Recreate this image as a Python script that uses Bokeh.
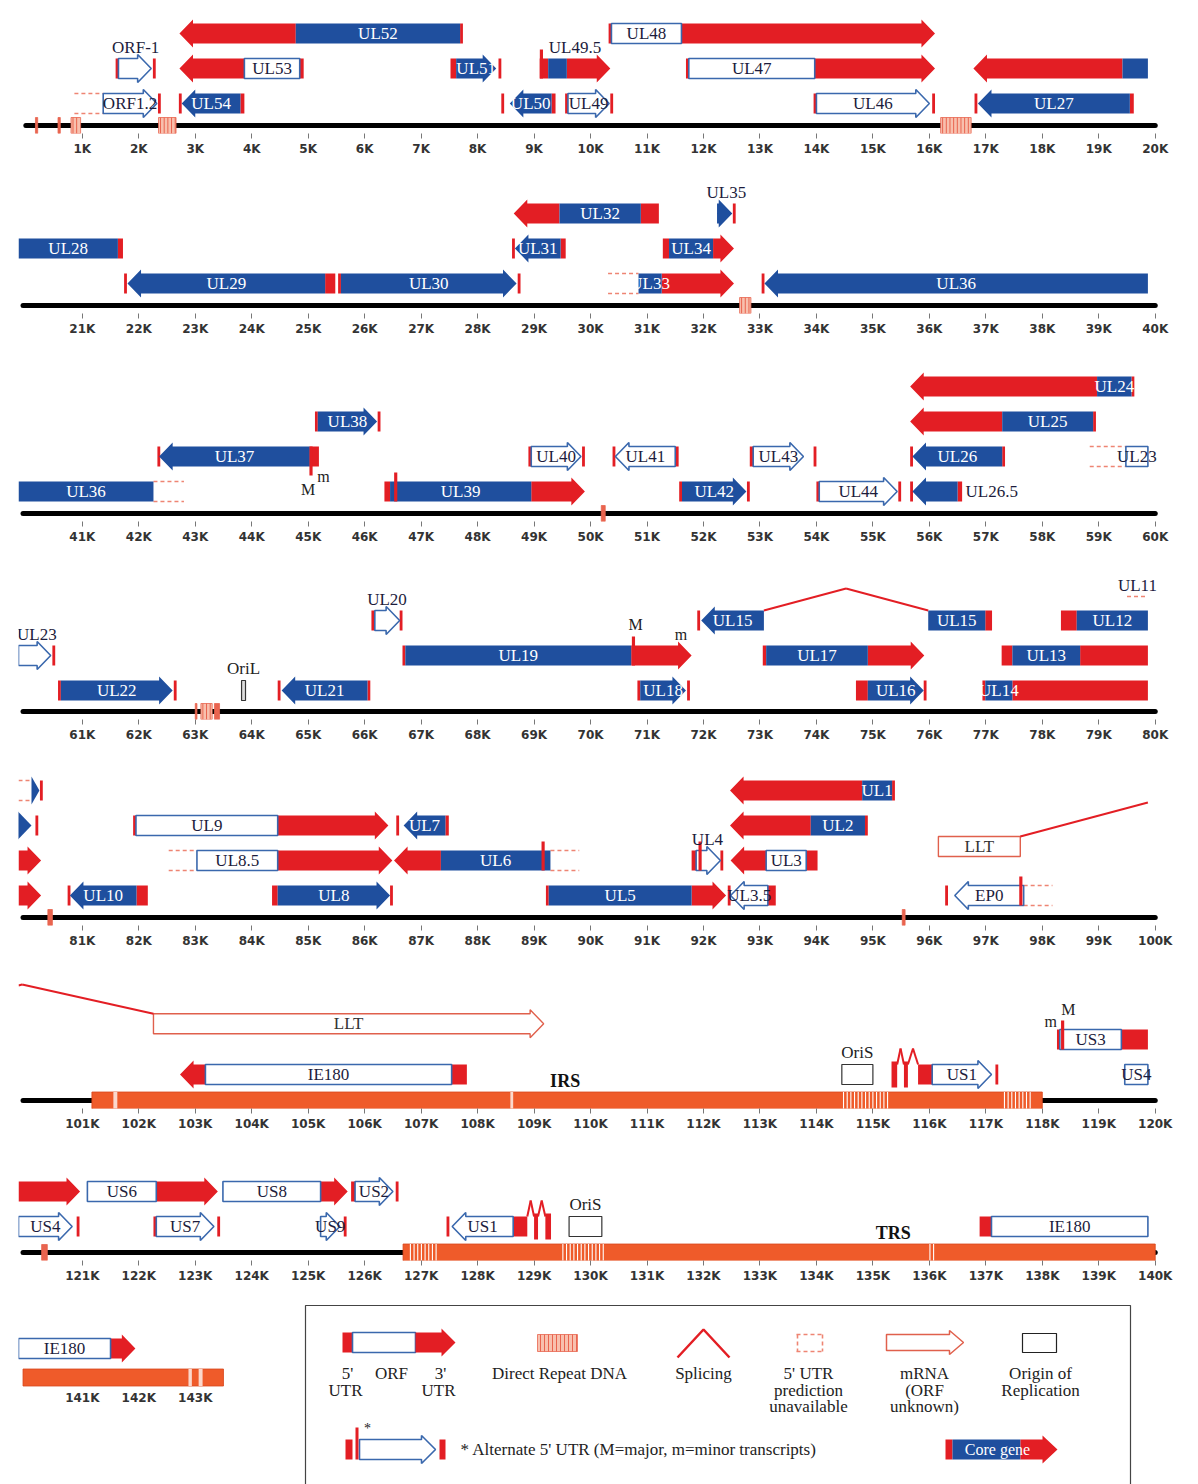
from bokeh.plotting import figure
from bokeh.layouts import column, row
from bokeh.models import Range1d, FixedTicker, CustomJSTickFormatter, ColumnDataSource
from bokeh.core.properties import value
from bokeh.embed import file_html
from bokeh.resources import INLINE

# ---------------------------------------------------------------- data (kb)
GENE = ["ORF-1", "ORF1.2", "UL54", "UL53", "UL52", "UL51", "UL50", "UL49.5", "UL49", "UL48",
        "UL47", "UL46", "UL27", "UL28", "UL29", "UL30", "UL31", "UL32", "UL33", "UL34",
        "UL35", "UL36", "UL37", "UL38", "UL39", "UL40", "UL41", "UL42", "UL43", "UL44",
        "UL26.5", "UL26", "UL25", "UL24", "UL23", "UL22", "UL21", "UL20", "UL19", "UL18",
        "UL15", "UL15", "UL17", "UL16", "UL14", "UL13", "UL12", "UL11", "UL10", "UL9",
        "UL8.5", "UL8", "UL7", "UL6", "UL5", "UL4", "UL3", "UL3.5", "UL2", "UL1",
        "EP0", "LLT", "LLT", "IE180", "US1", "US3", "US4", "US6", "US7", "US8",
        "US9", "US2", "US1", "IE180"]
STRAND = [1, 1, -1, -1, -1, 1, -1, 1, 1, 1,
          1, 1, -1, -1, -1, 1, -1, -1, 1, 1,
          1, -1, -1, 1, 1, 1, -1, 1, 1, 1,
          -1, -1, -1, -1, 1, 1, -1, 1, 1, 1,
          -1, -1, 1, 1, 1, 1, 1, 1, -1, 1,
          1, 1, -1, -1, 1, 1, -1, -1, -1, -1,
          -1, 1, 1, -1, 1, 1, 1, 1, 1, 1,
          1, 1, -1, 1]
KIND = ["orf", "orf", "core", "orf", "core", "core", "core", "core", "orf", "orf",
        "orf", "orf", "core", "core", "core", "core", "core", "core", "core", "core",
        "core", "core", "core", "core", "core", "orf", "orf", "core", "orf", "orf",
        "core", "core", "core", "core", "orf", "core", "core", "orf", "core", "core",
        "core", "core", "core", "core", "core", "core", "core", "core", "core", "orf",
        "orf", "core", "core", "core", "core", "orf", "orf", "orf", "core", "core",
        "orf", "mrna", "mrna", "orf", "orf", "orf", "orf", "orf", "orf", "orf",
        "orf", "orf", "orf", "orf"]
TX5 = [1.60, 0.86, 3.87, 4.92, 7.74, 7.52, 9.38, 9.10, 9.56, 10.33,
       11.70, 13.96, 19.62, 21.72, 25.48, 25.53, 29.56, 31.21, 30.31, 31.28,
       None, 42.80, 45.19, 45.12, 46.35, 48.90, 51.56, 51.58, 52.82, 54.00,
       56.58, 57.33, 58.95, 59.63, 58.84, 60.58, 66.10, 66.12, 66.67, 70.83,
       None, 77.11, 73.05, 74.70, 76.96, 77.28, 78.33, 79.50, 82.16, 81.92,
       82.53, 84.36, 87.49, 89.80, 89.22, 91.79, 94.02, 93.28, 94.90, 95.38,
       98.18, None, None, 107.81, 115.80, 118.29, None, None, 122.28, None,
       None, 125.76, 128.88, 136.89]
ORF5 = [1.64, 1.37, 3.80, 4.85, 7.69, 7.62, 9.31, 9.25, 9.60, 10.37,
        11.74, 14.00, 19.55, 21.63, 25.30, 25.58, 29.47, 30.89, 30.85, 31.39,
        32.24, 42.26, 45.03, 45.17, 46.45, 48.95, 51.50, 51.62, 52.88, 54.05,
        56.50, 57.29, 58.90, 59.58, 59.48, 60.62, 66.05, 66.18, 66.72, 70.88,
        73.07, 76.99, 73.11, 74.91, 76.99, 77.47, 78.61, 80.10, 81.96, 81.95,
        83.03, 84.46, 87.43, 89.29, 89.26, 91.87, 93.82, 93.14, 94.86, 95.34,
        97.67, 96.16, 102.26, 107.54, 116.05, 118.31, 119.46, 121.09, 122.31, 123.49,
        125.22, 125.83, 128.63, 137.10]
ORF3 = [2.22, 2.32, 2.76, 3.87, 4.78, 8.33, 8.57, 9.58, 10.33, 11.61,
        13.97, 16.00, 16.86, 19.42, 21.80, 28.69, 28.66, 29.45, 31.26, 32.17,
        32.51, 33.08, 42.36, 46.22, 48.95, 49.83, 50.44, 52.76, 53.77, 55.43,
        55.70, 55.70, 57.29, 58.97, 60.44, 62.60, 64.53, 66.62, 70.72, 71.69,
        71.96, 75.98, 74.91, 75.90, 77.47, 78.67, 80.10, 80.24, 80.78, 84.46,
        84.46, 86.45, 86.69, 87.35, 91.79, 92.30, 93.11, 92.48, 93.90, 94.81,
        96.45, 97.61, 109.17, 103.18, 117.10, 119.40, 120.82, 122.31, 123.33, 125.22,
        125.56, 126.50, 127.55, 141.50]
TX3 = [2.30, 2.39, 2.71, 2.72, 2.72, 8.42, 8.42, 10.35, 10.40, 16.10,
       16.10, 16.10, 16.80, 16.78, 21.74, 28.76, 28.61, 28.64, 32.54, 32.54,
       32.57, 33.03, 42.33, 46.28, 49.90, 49.90, 50.39, 52.82, 54.00, 55.50,
       55.66, 55.66, 55.66, 55.66, 60.52, 62.67, 64.46, 66.67, 71.79, 71.76,
       71.89, None, 75.91, 75.95, 80.27, 80.27, 80.22, 80.30, 80.74, 86.42,
       86.49, 86.50, 86.56, 86.52, 92.40, 92.35, 92.48, 92.43, 92.47, 92.47,
       96.28, None, None, 102.73, 117.22, 120.96, 120.95, 123.40, 123.44, 125.70,
       125.68, 126.60, 127.45, 141.94]
HEAD = [1, 1, 1, 1, 1, 1, 1, 1, 1, 1,
        1, 1, 1, 1, 1, 1, 1, 1, 1, 1,
        1, 1, 1, 1, 1, 1, 1, 1, 1, 1,
        1, 1, 1, 1, 1, 1, 1, 1, 1, 1,
        1, 0, 1, 1, 1, 1, 1, 1, 1, 1,
        1, 1, 1, 1, 1, 1, 1, 1, 1, 1,
        1, 0, 1, 1, 1, 1, 1, 1, 1, 1,
        1, 1, 1, 1]
DASH5 = [0, 1, 0, 0, 0, 0, 0, 0, 0, 0,
         0, 0, 0, 0, 0, 0, 0, 0, 1, 0,
         0, 1, 0, 0, 0, 0, 0, 0, 0, 0,
         0, 0, 0, 0, 1, 0, 0, 0, 0, 0,
         0, 0, 0, 0, 0, 0, 0, 1, 0, 0,
         1, 0, 0, 1, 0, 0, 0, 0, 0, 0,
         1, 0, 0, 0, 0, 0, 0, 0, 0, 0,
         0, 0, 0, 0]
LANE = [2, 1, 1, 2, 3, 2, 1, 2, 1, 3,
        2, 1, 1, 2, 1, 1, 2, 3, 1, 2,
        3, 1, 2, 3, 1, 2, 2, 1, 2, 1,
        1, 2, 3, 4, 2, 1, 1, 3, 2, 1,
        3, 3, 2, 1, 1, 2, 3, 3.4, 1, 3,
        2, 1, 3, 2, 1, 2, 2, 1, 3, 4,
        1, 2.4, 2.45, 1, 1, 2, 1, 2, 1, 2,
        1, 2, 1, 1]
LANE_NEXT = [2, 1, 1, 2, 3, 2, 1, 2, 1, 3,
             2, 1, 1, 2, 1, 1, 2, 3, 1, 2,
             3, 1, 2, 3, 1, 2, 2, 1, 2, 1,
             1, 2, 3, 4, 2, 1, 1, 3, 2, 1,
             3, 3, 2, 1, 1, 2, 3, 4, 1, 3,
             2, 1, 3, 2, 1, 2, 2, 1, 3, 4,
             1, 2.4, 2.45, 1, 1, 2, 1, 2, 1, 2,
             1, 2, 1, 1]
LABEL_POS = ["above", "in", "in", "in", "in", "in", "in", "above", "in", "in",
             "in", "in", "in", "none|in", "in", "in", "in", "in", "in", "in",
             "above", "in", "in", "in", "in", "in", "in", "in", "in", "in",
             "right", "in", "in", "in", "in|above", "in", "in", "above", "in", "in",
             "in", "in", "in", "in", "in", "in", "in", "above|none", "in", "in",
             "in", "in", "in", "in", "in", "above", "in", "in", "in", "in",
             "in", "in", "in", "in", "in", "in", "in", "in", "in", "in",
             "in", "in", "in", "in"]

# alternate 5' UTR marks
ALT_X = [9.13, 45.05, 46.55, 70.76, 89.16, 91.94, 97.62, 118.36]
ALT_LANE = [2, 2, 1, 2, 2, 2, 1, 2]
ALT_DIR = [1, -1, 1, 1, 1, 1, 1, 1]
ALT_TXT = ["m", "M", "M", "m", "m", "M"]
ALT_TX = [45.27, 45.00, 70.80, 71.60, 118.15, 118.46]
ALT_TLANE = [2, 2, 2, 2, 2, 2]
ALT_TDY = [-20, -33, 31, 21, 18, 30]

# small spliced 5' exons (US1) and splice junctions
EXON_X0 = [115.33, 115.55, 129.00, 129.20]
EXON_X1 = [115.43, 115.62, 129.07, 129.30]
EXON_LANE = [1, 1, 1, 1]
SPL_X0 = [73.07, 97.61, 115.43, 115.62, 128.88, 129.07]
SPL_X1 = [75.98, 102.26, 115.55, 115.80, 129.00, 129.20]
SPL_L0 = [3, 2.4, 1, 1, 1, 1]
SPL_L1 = [3, 2.45, 1, 1, 1, 1]
SPL_APEX = [123, 116, 52, 52, 52, 52]

# direct repeats on the backbone
DR_X0 = [0.17, 0.57, 0.80, 2.35, 16.20, 32.64, 50.19, 63.00, 63.10, 63.34, 80.39, 95.52, 120.28]
DR_X1 = [0.21, 0.61, 0.97, 2.66, 16.74, 32.84, 50.26, 63.03, 63.30, 63.43, 80.47, 95.57, 120.38]

# inverted repeat regions
REP_X0 = [101.17, 126.68]
REP_X1 = [118.00, 143.50]
REP_NAME = ["IRS", "TRS"]
REP_LX = [109.55, 135.36]
REP_ST_X0 = [101.55, 108.58, 114.45, 117.30, 126.78, 129.48, 135.98, 142.88, 143.06]
REP_ST_X1 = [101.62, 108.63, 115.26, 117.84, 127.32, 130.23, 136.12, 142.94, 143.13]

# origins of replication
ORI_X0 = [63.82, 114.45, 129.62]
ORI_X1 = [63.89, 115.00, 130.20]
ORI_NAME = ["OriL", "OriS", "OriS"]

TICKS_KB = list(range(1, 144))

# ---------------------------------------------------------------- style / layout
RED = "#e31e24"
BLUE = "#1f4f9e"
OUTL = "#3a68ad"
MRNA_C = "#e0604c"
ORANGE = "#ef5b2a"
DASH_C = "#ee8573"
DR_FILL = "#f8c0ae"
DR_LINE = "#e9644f"
SERIF = "Liberation Serif"
SANS = "DejaVu Sans"
GENE_FS = "17px"
PX = 56.47
BB = 8
BODY = 10
HEADH = 14
HL = 0.24
TICK = 0.05
ROW_START = [0, 20, 40, 60, 80, 100, 120, 140]
BACKBONE_PAGE = [125, 305, 513, 711, 917, 1100, 1252, 1377]
LANE_BASE = [22, 22, 22, 21, 22, 26, 26, 29]
LANE_STEP = 35
PAGE_H = 1484


def row_of(x):
    return max(0, min(7, int((x + 0.13) // 20)))


def lane_y(lane, r):
    return BB + LANE_BASE[r] + LANE_STEP * (lane - 1)


def gene_pieces(i):
    s = STRAND[i]
    t5, o5, o3, t3 = TX5[i], ORF5[i], ORF3[i], TX3[i]
    utr_arrow = t3 is not None and abs(t3 - o3) >= 0.3
    out = []
    if t5 is not None:
        if DASH5[i]:
            out.append(("dash", t5, o5, False))
        else:
            w = max(abs(o5 - t5), TICK)
            out.append(("utr", o5 - s * w, o5, False))
    out.append((KIND[i], o5, o3, bool(HEAD[i]) and not utr_arrow))
    if t3 is not None:
        if utr_arrow:
            out.append(("utr", o3, t3, bool(HEAD[i])))
        else:
            out.append(("utr", t3 - s * TICK, t3, False))
    return out


def shape(x0, x1, head, s, yc, lo, hi):
    a, b = min(x0, x1), max(x0, x1)
    ca, cb = max(a, lo), min(b, hi)
    if cb <= ca:
        return None
    yt, yb = yc + BODY, yc - BODY
    if head and lo <= x1 <= hi:
        hl = min(HL, abs(x1 - x0))
        hb = x1 - s * hl
        x0c = ca if s > 0 else cb
        if s * (hb - x0c) > 0:
            return ([x0c, hb, hb, x1, hb, hb, x0c],
                    [yb, yb, yc - HEADH, yc, yc + HEADH, yt, yt])
        return [hb, x1, hb], [yc - HEADH, yc, yc + HEADH]
    return [ca, cb, cb, ca], [yb, yb, yt, yt]


def clip_polyline(xs, ys, lo, hi):
    sx, sy = [], []
    for k in range(len(xs) - 1):
        xa, ya, xb, yb = xs[k], ys[k], xs[k + 1], ys[k + 1]
        a, b = max(min(xa, xb), lo), min(max(xa, xb), hi)
        if b <= a:
            continue
        f = lambda x: ya + (yb - ya) * (x - xa) / (xb - xa)
        sx.append([a, b])
        sy.append([f(a), f(b)])
    return sx, sy


def text(p, xs, ys, txt, size="16px", color="#1c1c3c", align="center", style="normal", font=SERIF):
    if not xs:
        return
    src = ColumnDataSource(dict(x=xs, y=ys, t=txt))
    p.text(x="x", y="y", text="t", source=src, text_font=value(font), text_font_size=value(size),
           text_color=color, text_align=align, text_baseline="middle", text_font_style=style)


def build_row(r, top, bottom=None):
    off = ROW_START[r]
    fw = 1140 if r < 7 else 242
    last = r == 7
    if not last:
        H = BACKBONE_PAGE[r] + 48 - top
        yr = Range1d(0, H - 40)
        mb = 40
    else:
        H = bottom - top
        yr = Range1d(BB - (bottom - BACKBONE_PAGE[r]), BB + (BACKBONE_PAGE[r] - top))
        mb = 0
    p = figure(width=fw + 43, height=H, title=None,
               x_range=Range1d(off - 0.13, off - 0.13 + fw / PX), y_range=yr,
               output_backend="svg", toolbar_location=None, tools="",
               min_border_left=18, min_border_right=25, min_border_top=0, min_border_bottom=mb,
               y_axis_location=None, x_axis_location=None if last else "below")
    p.grid.visible = False
    p.outline_line_color = None
    ticks = [t for t in TICKS_KB if off < t <= off + 20]
    if not last:
        ax = p.xaxis[0]
        ax.ticker = FixedTicker(ticks=ticks)
        ax.formatter = CustomJSTickFormatter(code="return Math.round(tick) + 'K';")
        ax.axis_line_color = None
        ax.major_tick_line_color = "#777777"
        ax.major_tick_out = 5
        ax.major_tick_in = 0
        ax.minor_tick_line_color = None
        ax.major_label_standoff = 3
        ax.major_label_text_font = SANS
        ax.major_label_text_font_size = "12px"
        ax.major_label_text_font_style = "bold"
        ax.major_label_text_color = "#333333"
    else:
        text(p, ticks, [BB - 20] * len(ticks), [f"{t}K" for t in ticks], size="12px",
             color="#333333", style="bold", font=SANS)

    lo, hi = off - 0.13, off + 19.87

    # backbone
    if not last:
        bs = 0 if r == 0 else off - 0.05
        p.segment(x0=[bs], y0=[BB], x1=[off + 20], y1=[BB], line_width=5,
                  line_color="black", line_cap="round")
    # repeat regions
    for a, b in zip(REP_X0, REP_X1):
        ca, cb = max(a, off - 0.05), min(b, off + 20)
        if cb > ca:
            p.quad(left=[ca], right=[cb], bottom=[BB - 8.5], top=[BB + 8.5],
                   fill_color=ORANGE, line_color="#d8461c", line_width=0.8)
    sx, sy = [], []
    for a, b in zip(REP_ST_X0, REP_ST_X1):
        if a < off - 0.05 or a > off + 20:
            continue
        if b - a < 0.1:
            p.quad(left=[a], right=[b], bottom=[BB - 8.5], top=[BB + 8.5],
                   fill_color="#fbd8cc", line_color=None)
        else:
            x = a + 0.03
            while x < b:
                sx.append([x, x]); sy.append([BB - 8.5, BB + 8.5]); x += 0.065
    if sx:
        p.multi_line(sx, sy, line_color="white", line_width=1.1)
    # direct repeats
    sx, sy = [], []
    for a, b in zip(DR_X0, DR_X1):
        if b < lo or a > off + 20:
            continue
        narrow = (b - a) < 0.1
        p.quad(left=[a], right=[b], bottom=[BB - 8], top=[BB + 8],
               fill_color=DR_LINE if narrow else DR_FILL, line_color=DR_LINE, line_width=0.8)
        if not narrow:
            x = a + 0.035
            while x < b - 0.01:
                sx.append([x, x]); sy.append([BB - 8, BB + 8]); x += 0.065
    if sx:
        p.multi_line(sx, sy, line_color=DR_LINE, line_width=1)

    # genes
    groups = {"utr": ([], []), "core": ([], []), "orf": ([], []), "mrna": ([], [])}
    dash_x, dash_y = [], []
    lab_c = ([], [], [], [])
    lab_l = ([], [], [])
    for i in range(len(GENE)):
        xs_all = [v for v in (TX5[i], ORF5[i], ORF3[i], TX3[i]) if v is not None]
        gmin, gmax = min(xs_all), max(xs_all)
        if gmax < lo or gmin > hi:
            continue
        first = row_of(gmin)
        lane = LANE[i] if r == first else LANE_NEXT[i]
        yc = lane_y(lane, r)
        s = STRAND[i]
        vis = []
        orf_vis = None
        for kind, x0, x1, head in gene_pieces(i):
            a, b = max(min(x0, x1), lo), min(max(x0, x1), hi)
            if b > a:
                vis += [a, b]
            if kind == "dash":
                if b > a:
                    dash_x += [[a, b], [a, b]]
                    dash_y += [[yc + BODY, yc + BODY], [yc - BODY, yc - BODY]]
                continue
            if kind in ("core", "orf", "mrna") and b > a:
                orf_vis = (a, b)
            shp = shape(x0, x1, head, s, yc, lo, hi)
            if shp:
                groups[kind][0].append(shp[0]); groups[kind][1].append(shp[1])
        spec = LABEL_POS[i].split("|")
        mode = spec[0] if r == first else spec[-1]
        col = "white" if KIND[i] == "core" else ("#333333" if KIND[i] == "mrna" else "#1c1c3c")
        if mode == "in" and orf_vis and orf_vis[1] - orf_vis[0] >= 0.3:
            lab_c[0].append((orf_vis[0] + orf_vis[1]) / 2); lab_c[1].append(yc)
            lab_c[2].append(GENE[i]); lab_c[3].append(col)
        elif mode == "above" and vis:
            lab_c[0].append((min(vis) + max(vis)) / 2); lab_c[1].append(yc + 21)
            lab_c[2].append(GENE[i]); lab_c[3].append("#1c1c3c")
        elif mode == "right" and vis:
            lab_l[0].append(max(vis) + 0.06); lab_l[1].append(yc); lab_l[2].append(GENE[i])

    # extra small exons
    for a, b, ln in zip(EXON_X0, EXON_X1, EXON_LANE):
        if row_of(a) == r:
            yc = lane_y(ln, r)
            groups["utr"][0].append([a, b, b, a]); groups["utr"][1].append([yc - 13, yc - 13, yc + 13, yc + 13])
    if dash_x:
        p.multi_line(dash_x, dash_y, line_color=DASH_C, line_width=1.5, line_dash="4 3")
    p.patches(groups["utr"][0], groups["utr"][1], fill_color=RED, line_color=None)
    p.patches(groups["core"][0], groups["core"][1], fill_color=BLUE, line_color=None)
    p.patches(groups["orf"][0], groups["orf"][1], fill_color="white", line_color=OUTL, line_width=1.6)
    p.patches(groups["mrna"][0], groups["mrna"][1], fill_color="white", line_color=MRNA_C, line_width=1.4)

    # alternate 5' marks
    for x, ln, d in zip(ALT_X, ALT_LANE, ALT_DIR):
        if row_of(x) == r:
            yc = lane_y(ln, r)
            p.quad(left=[x - 0.028], right=[x + 0.028], bottom=[min(yc - d * BODY, yc + d * 19)],
                   top=[max(yc - d * BODY, yc + d * 19)], fill_color=RED, line_color=None)
    ax_, ay_, at_ = [], [], []
    for t, x, ln, dy in zip(ALT_TXT, ALT_TX, ALT_TLANE, ALT_TDY):
        if row_of(x) == r:
            ax_.append(x); ay_.append(lane_y(ln, r) + dy); at_.append(t)
    text(p, ax_, ay_, at_, size="16px", color="#222222")

    # splices
    sx, sy = [], []
    for x0, x1, l0, l1, ap in zip(SPL_X0, SPL_X1, SPL_L0, SPL_L1, SPL_APEX):
        xs = [x0, (x0 + x1) / 2, x1]
        ys = [lane_y(l0, row_of(x0)) + BODY, BB + ap, lane_y(l1, row_of(x1)) + BODY]
        cx, cy = clip_polyline(xs, ys, lo, hi)
        sx += cx; sy += cy
    if sx:
        p.multi_line(sx, sy, line_color=RED, line_width=2)

    # origins
    ox, oy, ot = [], [], []
    for a, b, nm in zip(ORI_X0, ORI_X1, ORI_NAME):
        if row_of(a) == r:
            yc = lane_y(1, r)
            p.quad(left=[a], right=[b], bottom=[yc - BODY], top=[yc + BODY],
                   fill_color="#dddddd" if b - a < 0.2 else "white", line_color="#333333", line_width=1.2)
            ox.append((a + b) / 2); oy.append(yc + 22); ot.append(nm)
    text(p, ox, oy, ot, size=GENE_FS, color="#222222")

    # region labels
    rx, ry, rt = [], [], []
    for nm, x in zip(REP_NAME, REP_LX):
        if row_of(x) == r:
            rx.append(x); ry.append(BB + 20); rt.append(nm)
    text(p, rx, ry, rt, size="18px", color="#111111", style="bold")

    # gene labels
    if lab_c[0]:
        src = ColumnDataSource(dict(x=lab_c[0], y=lab_c[1], t=lab_c[2], c=lab_c[3]))
        p.text(x="x", y="y", text="t", text_color="c", source=src, text_font=value(SERIF),
               text_font_size=value(GENE_FS), text_align="center", text_baseline="middle")
    text(p, lab_l[0], lab_l[1], lab_l[2], size=GENE_FS, color="#1c1c3c", align="left")
    return p


def arrow(x0, xh, x1, yc, body=10, headh=14):
    return [x0, xh, xh, x1, xh, xh, x0], [yc - body, yc - body, yc - headh, yc, yc + headh, yc + body, yc + body]


def build_legend(x0, top, bottom):
    lg = figure(width=1198 - x0, height=bottom - top, title=None, x_range=Range1d(x0, 1198),
                y_range=Range1d(bottom, top),
                output_backend="svg", toolbar_location=None, tools="", min_border=0,
                x_axis_location=None, y_axis_location=None)
    lg.grid.visible = False
    lg.outline_line_color = None
    lg.line([305, 305, 1130, 1130], [1495, 1305, 1305, 1495], line_color="#444444", line_width=1.2)
    # gene structure
    lg.quad(left=[342], right=[352], top=[1332], bottom=[1352], fill_color=RED, line_color=None)
    lg.quad(left=[352], right=[415], top=[1332], bottom=[1352], fill_color="white", line_color=OUTL, line_width=1.6)
    xs, ys = arrow(415, 441, 455, 1342)
    lg.patch(xs, ys, fill_color=RED, line_color=None)
    # direct repeat
    lg.quad(left=[537], right=[577], top=[1334], bottom=[1351], fill_color=DR_FILL, line_color=DR_LINE, line_width=0.8)
    lg.multi_line([[x, x] for x in range(540, 577, 4)], [[1334, 1351]] * 10, line_color=DR_LINE, line_width=1)
    # splicing
    lg.line([677, 703, 729], [1357, 1329, 1357], line_color=RED, line_width=2.5)
    # 5'UTR unavailable
    lg.multi_line([[796, 822], [796, 822], [822, 822], [797, 797]], [[1334, 1334], [1351, 1351], [1334, 1351], [1334, 1351]],
                  line_color=DASH_C, line_width=1.6, line_dash="4 3")
    # mRNA
    xs, ys = arrow(886, 949, 963, 1342, body=8, headh=12)
    lg.patch(xs, ys, fill_color="white", line_color=MRNA_C, line_width=1.5)
    # origin
    lg.quad(left=[1022], right=[1056], top=[1333], bottom=[1352], fill_color="white", line_color="#222222", line_width=1.2)
    # alternate 5' UTR
    lg.quad(left=[345], right=[352], top=[1439], bottom=[1459], fill_color=RED, line_color=None)
    xs, ys = arrow(359, 421, 435, 1449)
    lg.patch(xs, ys, fill_color="white", line_color=OUTL, line_width=1.6)
    lg.quad(left=[355], right=[358], top=[1427], bottom=[1459], fill_color=RED, line_color=None)
    lg.quad(left=[439], right=[445], top=[1439], bottom=[1459], fill_color=RED, line_color=None)
    # core gene
    lg.quad(left=[945], right=[952], top=[1439], bottom=[1459], fill_color=RED, line_color=None)
    lg.quad(left=[952], right=[1020], top=[1439], bottom=[1459], fill_color=BLUE, line_color=None)
    xs, ys = arrow(1020, 1042, 1057, 1449)
    lg.patch(xs, ys, fill_color=RED, line_color=None)

    tx = [347, 345, 391, 440, 438, 559, 703, 808, 808, 808, 924, 924, 924, 1040, 1040]
    ty = [1373, 1390, 1373, 1373, 1390, 1373, 1373, 1373, 1390, 1406, 1373, 1390, 1406, 1373, 1390]
    tt = ["5'", "UTR", "ORF", "3'", "UTR", "Direct Repeat DNA", "Splicing", "5' UTR", "prediction",
          "unavailable", "mRNA", "(ORF", "unknown)", "Origin of", "Replication"]
    text(lg, tx, ty, tt, size="17px", color="#222222")
    text(lg, [367], [1428], ["*"], size="14px", color="#222222")
    text(lg, [460], [1449], ["* Alternate 5' UTR (M=major, m=minor transcripts)"], size="17px",
         color="#222222", align="left")
    text(lg, [997], [1449], ["Core gene"], size="16px", color="white")
    return lg


figs = []
top = 0
for r in range(7):
    figs.append(build_row(r, top))
    top = BACKBONE_PAGE[r] + 48
fig8 = build_row(7, top, PAGE_H)
legend = build_legend(fig8.width, top, PAGE_H)

layout = column(*figs, row(fig8, legend))
open("out.html", "w").write(file_html(layout, INLINE, "HSV genome map"))
